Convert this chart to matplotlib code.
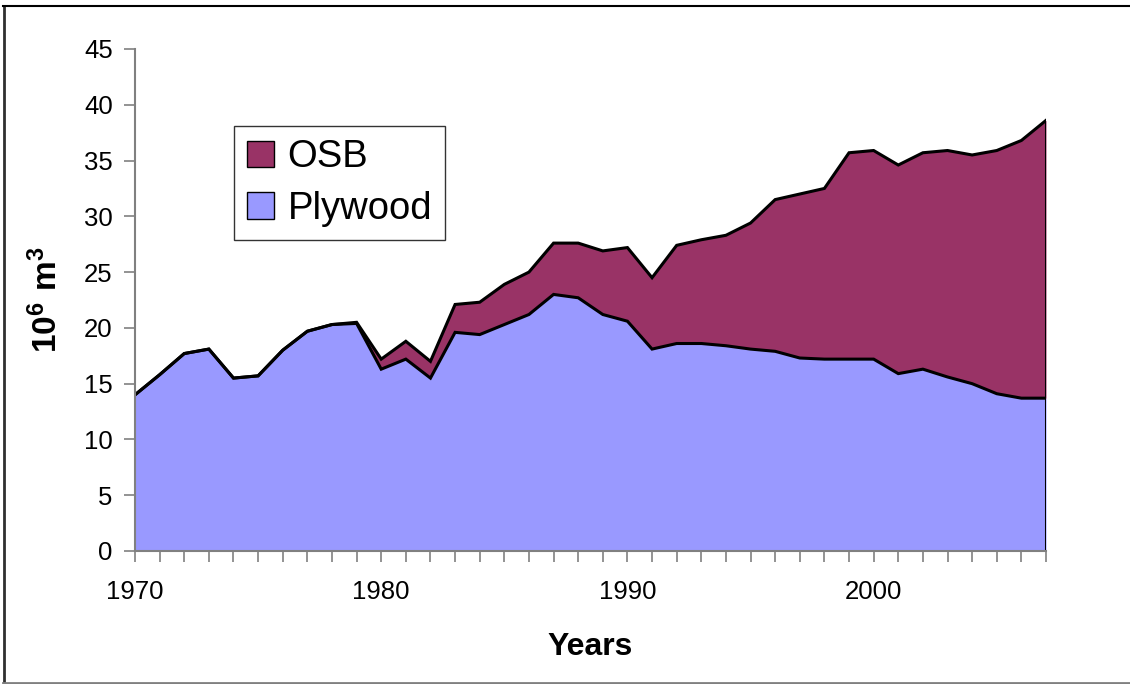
import matplotlib
matplotlib.use("Agg")
import matplotlib.pyplot as plt
from matplotlib.lines import Line2D
import numpy as np

years = list(range(1970, 2008))
plywood = [14.0, 15.8, 17.7, 18.1, 15.5, 15.7, 18.0, 19.7, 20.3, 20.4,
           16.3, 17.2, 15.5, 19.6, 19.4, 20.3, 21.2, 23.0, 22.7, 21.2,
           20.6, 18.1, 18.6, 18.6, 18.4, 18.1, 17.9, 17.3, 17.2, 17.2,
           17.2, 15.9, 16.3, 15.6, 15.0, 14.1, 13.7, 13.7]
total = [14.0, 15.8, 17.7, 18.1, 15.5, 15.7, 18.0, 19.7, 20.3, 20.5,
         17.2, 18.8, 17.0, 22.1, 22.3, 23.9, 25.0, 27.6, 27.6, 26.9,
         27.2, 24.5, 27.4, 27.9, 28.3, 29.4, 31.5, 32.0, 32.5, 35.7,
         35.9, 34.6, 35.7, 35.9, 35.5, 35.9, 36.8, 38.6]
osb = [round(t - p, 2) for t, p in zip(total, plywood)]
series_names = ["Plywood", "OSB"]
colors = ["#9999ff", "#993366"]
yticks = list(range(0, 50, 5))
xtick_labels = [1970, 1980, 1990, 2000]

plt.rcParams['font.family'] = ['Liberation Sans', 'DejaVu Sans']
plt.rcParams['mathtext.fontset'] = 'custom'
plt.rcParams['mathtext.rm'] = 'Liberation Sans'
plt.rcParams['mathtext.bf'] = 'Liberation Sans:bold'

W, H = 1130, 684
fig = plt.figure(figsize=(W / 100, H / 100), dpi=100)
ax = fig.add_axes([135 / W, (H - 551) / H, (1046 - 135) / W, (551 - 49) / H])

x = np.array(years)
ply = np.array(plywood)
tot = ply + np.array(osb)
ax.fill_between(x, 0, ply, color=colors[0], linewidth=0)
ax.fill_between(x, ply, tot, color=colors[1], linewidth=0)
ax.plot(x, ply, color='black', lw=2.2, solid_joinstyle='miter')
ax.plot(x, tot, color='black', lw=2.2, solid_joinstyle='miter')
ax.plot([x[-1], x[-1]], [0, tot[-1]], color='black', lw=2.2)

ax.set_xlim(1970, 2007)
ax.set_ylim(0, 45)
ax.set_yticks(yticks)
ax.set_xticks(xtick_labels)
ax.set_xticks(years, minor=True)
ax.tick_params(axis='y', direction='out', length=8, width=1.2, color='#808080',
               labelsize=18.5, pad=8)
ax.tick_params(axis='x', which='both', direction='out', length=8, width=1.2,
               color='#808080', labelsize=18.5, pad=13)
for s in ['top', 'right']:
    ax.spines[s].set_visible(False)
ax.spines['left'].set_color('#808080')
ax.spines['left'].set_linewidth(1.5)
ax.spines['bottom'].set_color('#808080')
ax.spines['bottom'].set_linewidth(1.5)

ax.set_xlabel('Years', fontsize=23, fontweight='bold', labelpad=20)
ax.set_ylabel(r'$\mathbf{10^6\ m^3}$', fontsize=24, labelpad=14)

handles = [plt.Rectangle((0, 0), 1, 1, facecolor=colors[1], edgecolor='black', lw=1),
           plt.Rectangle((0, 0), 1, 1, facecolor=colors[0], edgecolor='black', lw=1)]
leg = ax.legend(handles, ["OSB", "Plywood"], loc='upper left',
                bbox_to_anchor=((234 - 135) / (1046 - 135), (551 - 126) / (551 - 49)),
                fontsize=27.5, frameon=True, fancybox=False, handlelength=0.7,
                handleheight=0.7, handletextpad=0.35, borderpad=0.35,
                labelspacing=0.4, borderaxespad=0)
leg.get_frame().set_edgecolor('black')
leg.get_frame().set_linewidth(1)

# figure border
fig.add_artist(Line2D([3.5 / W, 3.5 / W], [1 - 6 / H, 1 - 683 / H], color='#303030', lw=2, transform=fig.transFigure))
fig.add_artist(Line2D([3 / W, 1], [1 - 6 / H, 1 - 6 / H], color='black', lw=1.5, transform=fig.transFigure))
fig.add_artist(Line2D([3 / W, 1], [1 - 683 / H, 1 - 683 / H], color='#808080', lw=2, transform=fig.transFigure))

fig.savefig('out.png', dpi=100)
